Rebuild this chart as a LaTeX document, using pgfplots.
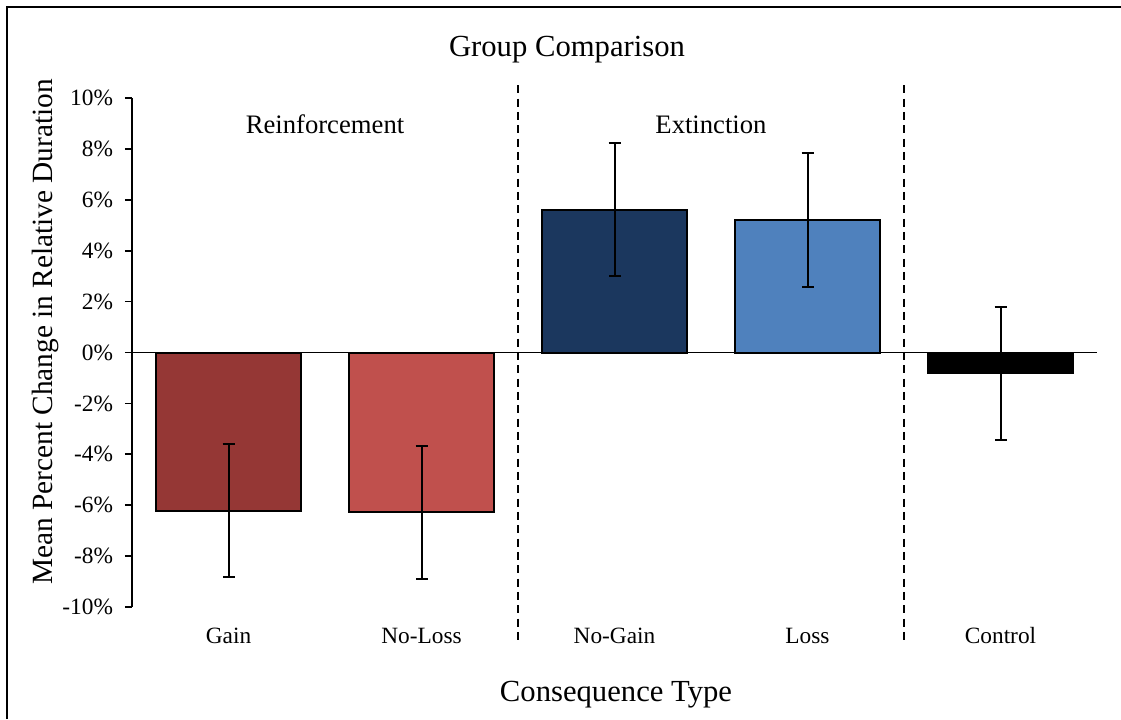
\documentclass[border=0pt]{standalone}
\usepackage{pgfplots}
\pgfplotsset{compat=1.18}
\usepackage{fontspec}
\setmainfont{Liberation Serif}
\definecolor{cGain}{HTML}{953735}
\definecolor{cNoLoss}{HTML}{C0504D}
\definecolor{cNoGain}{HTML}{1B375E}
\definecolor{cLoss}{HTML}{4F81BD}
\begin{document}
\begin{tikzpicture}
\path[use as bounding box] (0,0) rectangle (840.75pt,539.25pt);
\draw[line width=2.2pt] (5.25pt,0) -- (5.25pt,534pt) -- (840.75pt,534pt);
\begin{axis}[
  at={(99pt,84pt)}, anchor=south west,
  scale only axis, width=723.75pt, height=381.75pt,
  xmin=-0.5, xmax=4.5, ymin=-10, ymax=10,
  axis x line=bottom, axis y line=left,
  x axis line style={draw=none},
  y axis line style={-, line width=1.3pt},
  xtick={0,1,2,3,4},
  xticklabels={Gain,No-Loss,No-Gain,Loss,Control},
  xtick style={draw=none},
  xticklabel style={font=\fontsize{17.5}{20}\selectfont, anchor=base, yshift=-22pt},
  ytick={-10,-8,-6,-4,-2,0,2,4,6,8,10},
  yticklabels={-10\%,-8\%,-6\%,-4\%,-2\%,0\%,2\%,4\%,6\%,8\%,10\%},
  yticklabel style={font=\fontsize{17.5}{20}\selectfont, xshift=-5.5pt},
  tick align=outside,
  ytick style={line width=1.3pt, black},
  major tick length=5.25pt,
  clip=false,
]
\draw[line width=1.4pt] (axis cs:-0.5,0) -- (axis cs:4.5,0);
\addplot[ybar, bar width=0.756, bar shift=0pt, fill=cGain, draw=black, line width=1.5pt,
  error bars/.cd, y dir=both, y explicit,
  error bar style={line width=1.5pt, black},
  error mark options={rotate=90, mark size=4.5pt, line width=1.5pt, black}]
  coordinates {(0,-6.21) +- (0,2.6)};
\addplot[ybar, bar width=0.756, bar shift=0pt, fill=cNoLoss, draw=black, line width=1.5pt,
  error bars/.cd, y dir=both, y explicit,
  error bar style={line width=1.5pt, black},
  error mark options={rotate=90, mark size=4.5pt, line width=1.5pt, black}]
  coordinates {(1,-6.27) +- (0,2.61)};
\addplot[ybar, bar width=0.756, bar shift=0pt, fill=cNoGain, draw=black, line width=1.5pt,
  error bars/.cd, y dir=both, y explicit,
  error bar style={line width=1.5pt, black},
  error mark options={rotate=90, mark size=4.5pt, line width=1.5pt, black}]
  coordinates {(2,5.61) +- (0,2.61)};
\addplot[ybar, bar width=0.756, bar shift=0pt, fill=cLoss, draw=black, line width=1.5pt,
  error bars/.cd, y dir=both, y explicit,
  error bar style={line width=1.5pt, black},
  error mark options={rotate=90, mark size=4.5pt, line width=1.5pt, black}]
  coordinates {(3,5.19) +- (0,2.63)};
\addplot[ybar, bar width=0.756, bar shift=0pt, fill=black, draw=black, line width=1.5pt,
  error bars/.cd, y dir=both, y explicit,
  error bar style={line width=1.5pt, black},
  error mark options={rotate=90, mark size=4.5pt, line width=1.5pt, black}]
  coordinates {(4,-0.82) +- (0,2.62)};
\draw[line width=1.4pt, dash pattern=on 6pt off 4pt] (axis cs:1.5,10.5) -- (axis cs:1.5,-11.3);
\draw[line width=1.4pt, dash pattern=on 6pt off 4pt] (axis cs:3.5,10.5) -- (axis cs:3.5,-11.3);
\node[font=\fontsize{20}{24}\selectfont] at (axis cs:0.5,8.96) {Reinforcement};
\node[font=\fontsize{20}{24}\selectfont] at (axis cs:2.5,8.96) {Extinction};
\end{axis}
\node[font=\fontsize{23}{27}\selectfont] at (425.25pt,502pt) {Group Comparison};
\node[font=\fontsize{23}{27}\selectfont] at (462pt,18.25pt) {Consequence Type};
\node[font=\fontsize{22}{26}\selectfont, rotate=90] at (33.75pt,290.25pt) {Mean Percent Change in Relative Duration};
\end{tikzpicture}
\end{document}
